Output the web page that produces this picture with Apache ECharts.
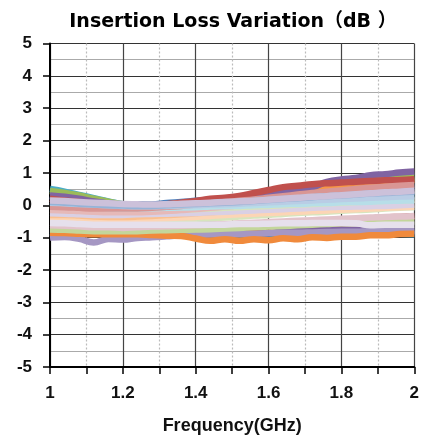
<!DOCTYPE html>
<html>
<head>
<meta charset="utf-8">
<script src="https://cdn.jsdelivr.net/npm/echarts@6/dist/echarts.min.js"></script>
<style>html,body{margin:0;padding:0;background:#fff}#c{width:422px;height:440px}</style>
</head>
<body>
<div id="c"></div>
<script>
var freq = [1.00,1.04,1.08,1.12,1.16,1.20,1.24,1.28,1.32,1.36,1.40,1.44,1.48,1.52,1.56,1.60,1.64,1.68,1.72,1.76,1.80,1.84,1.88,1.92,1.96,2.00];

// dark lines (drawn first)
var tealTop    = [0.50,0.42,0.32,0.22,0.12,0.03,0.00,-0.02,-0.01,0.01,0.03,0.05,0.06,0.08,0.10,0.12,0.14,0.15,0.17,0.19,0.21,0.23,0.25,0.27,0.28,0.30];
var greenTop   = [0.44,0.38,0.30,0.20,0.11,0.03,0.02,0.01,0.03,0.06,0.09,0.12,0.15,0.19,0.24,0.30,0.36,0.42,0.50,0.56,0.63,0.70,0.76,0.80,0.84,0.86];
var blueTop    = [0.28,0.22,0.16,0.10,0.05,0.01,0.03,0.02,0.07,0.10,0.14,0.17,0.21,0.23,0.27,0.30,0.33,0.36,0.38,0.42,0.45,0.48,0.50,0.53,0.56,0.58];
var redTop     = [0.20,0.15,0.10,0.05,0.00,-0.03,-0.02,-0.01,0.03,0.08,0.13,0.20,0.23,0.29,0.38,0.47,0.56,0.60,0.65,0.68,0.70,0.73,0.75,0.77,0.78,0.80];
var orangeTop  = [0.00,-0.02,-0.05,-0.08,-0.10,-0.12,-0.10,-0.10,-0.06,-0.03,0.00,0.05,0.10,0.15,0.20,0.25,0.32,0.38,0.45,0.52,0.58,0.63,0.68,0.72,0.75,0.78];
var purpleTop  = [0.30,0.26,0.20,0.12,0.06,0.00,-0.03,-0.04,-0.01,0.03,0.08,0.13,0.18,0.24,0.30,0.38,0.44,0.50,0.56,0.72,0.80,0.84,0.93,0.96,1.01,1.04];
var tealLow    = [-0.80,-0.82,-0.84,-0.86,-0.86,-0.88,-0.88,-0.90,-0.90,-0.92,-0.94,-0.96,-0.96,-0.95,-0.94,-0.94,-0.93,-0.92,-0.92,-0.91,-0.90,-0.90,-0.89,-0.90,-0.88,-0.90];
var blueLow    = [-0.75,-0.76,-0.78,-0.80,-0.80,-0.82,-0.83,-0.84,-0.85,-0.86,-0.88,-0.90,-0.90,-0.88,-0.88,-0.87,-0.86,-0.86,-0.86,-0.85,-0.84,-0.84,-0.84,-0.85,-0.83,-0.84];
var purpleLow  = [-0.70,-0.72,-0.74,-0.78,-0.78,-0.80,-0.80,-0.80,-0.82,-0.84,-0.86,-0.90,-0.88,-0.90,-0.86,-0.86,-0.80,-0.78,-0.74,-0.72,-0.74,-0.76,-0.80,-0.78,-0.80,-0.80];
var redLow     = [-0.55,-0.56,-0.58,-0.60,-0.62,-0.64,-0.66,-0.70,-0.72,-0.74,-0.76,-0.76,-0.74,-0.72,-0.70,-0.66,-0.62,-0.60,-0.58,-0.56,-0.55,-0.54,-0.55,-0.38,-0.36,-0.34];
var mauveLow   = [-1.00,-0.98,-1.04,-1.15,-1.04,-1.06,-1.01,-0.99,-0.96,-0.93,-0.92,-0.90,-0.90,-0.88,-0.88,-0.86,-0.85,-0.85,-0.84,-0.83,-0.82,-0.82,-0.80,-0.80,-0.79,-0.78];
var orangeLow  = [-0.85,-0.86,-0.88,-0.90,-0.90,-0.90,-0.90,-0.92,-0.94,-0.95,-1.03,-1.10,-1.05,-1.10,-1.05,-1.08,-1.02,-1.05,-0.99,-1.01,-0.97,-0.97,-0.93,-0.93,-0.89,-0.88];
// pastel lines (drawn after)
var greenTint  = [-0.75,-0.76,-0.78,-0.80,-0.80,-0.80,-0.80,-0.78,-0.77,-0.76,-0.75,-0.74,-0.72,-0.70,-0.68,-0.66,-0.64,-0.62,-0.60,-0.58,-0.56,-0.55,-0.53,-0.52,-0.50,-0.50];
var dustyPink  = [-0.62,-0.63,-0.65,-0.68,-0.68,-0.70,-0.68,-0.66,-0.65,-0.63,-0.62,-0.60,-0.58,-0.56,-0.54,-0.52,-0.50,-0.48,-0.46,-0.44,-0.42,-0.40,-0.38,-0.36,-0.35,-0.33];
var paleGreen  = [-0.48,-0.48,-0.50,-0.52,-0.52,-0.52,-0.50,-0.48,-0.46,-0.44,-0.42,-0.40,-0.38,-0.35,-0.32,-0.30,-0.27,-0.24,-0.22,-0.20,-0.17,-0.15,-0.13,-0.10,-0.08,-0.06];
var lightPeach = [-0.40,-0.40,-0.42,-0.44,-0.45,-0.45,-0.44,-0.42,-0.40,-0.38,-0.36,-0.33,-0.30,-0.28,-0.26,-0.24,-0.22,-0.20,-0.18,-0.16,-0.14,-0.12,-0.10,-0.08,-0.06,-0.05];
var peach      = [-0.30,-0.30,-0.32,-0.35,-0.36,-0.36,-0.35,-0.33,-0.30,-0.28,-0.25,-0.22,-0.19,-0.16,-0.13,-0.10,-0.07,-0.04,-0.01,0.02,0.05,0.08,0.10,0.12,0.14,0.16];
var lightLav2  = [-0.25,-0.26,-0.28,-0.30,-0.30,-0.30,-0.28,-0.27,-0.26,-0.25,-0.24,-0.22,-0.20,-0.18,-0.16,-0.14,-0.12,-0.10,-0.08,-0.06,-0.05,-0.04,-0.03,-0.02,0.00,0.02];
var paleGreen2 = [-0.12,-0.13,-0.16,-0.18,-0.20,-0.20,-0.20,-0.18,-0.16,-0.14,-0.12,-0.10,-0.08,-0.06,-0.04,-0.02,0.00,0.02,0.04,0.06,0.08,0.10,0.12,0.14,0.15,0.17];
var pink       = [-0.15,-0.16,-0.18,-0.20,-0.22,-0.22,-0.22,-0.20,-0.18,-0.15,-0.12,-0.08,-0.04,0.00,0.04,0.08,0.12,0.16,0.20,0.24,0.28,0.32,0.36,0.40,0.44,0.48];
var lightTeal  = [0.00,-0.02,-0.05,-0.07,-0.09,-0.10,-0.10,-0.09,-0.08,-0.07,-0.06,-0.04,-0.03,-0.02,0.00,0.01,0.03,0.04,0.06,0.07,0.09,0.10,0.11,0.13,0.14,0.15];
var rose       = [-0.05,-0.06,-0.08,-0.10,-0.10,-0.10,-0.10,-0.08,-0.05,-0.02,0.02,0.06,0.10,0.14,0.18,0.23,0.28,0.33,0.38,0.42,0.46,0.50,0.54,0.57,0.60,0.63];
var lightBlue  = [0.08,0.06,0.04,0.02,0.00,-0.02,-0.03,-0.03,-0.02,-0.01,0.00,0.02,0.03,0.05,0.07,0.09,0.11,0.13,0.15,0.17,0.19,0.21,0.23,0.25,0.27,0.28];
var medBlue    = [0.10,0.08,0.05,0.02,0.00,-0.01,-0.02,-0.02,0.00,0.02,0.04,0.06,0.08,0.10,0.13,0.16,0.19,0.22,0.25,0.28,0.30,0.33,0.36,0.38,0.40,0.42];
var lavender   = [0.15,0.13,0.10,0.08,0.06,0.04,0.03,0.02,0.03,0.05,0.06,0.08,0.10,0.12,0.14,0.17,0.20,0.23,0.26,0.28,0.31,0.34,0.37,0.40,0.42,0.45];
var veryLightLav = [-0.55,-0.56,-0.58,-0.60,-0.60,-0.60,-0.60,-0.60,-0.60,-0.60,-0.60,-0.60,-0.60,-0.58,-0.58,-0.57,-0.56,-0.56,-0.55,-0.55,-0.55,-0.56,-0.62,-0.60,-0.60,-0.60];

var lines = [
  ['tealTop', tealTop, '#4BACC6'], ['greenTop', greenTop, '#9BBB59'], ['blueTop', blueTop, '#4F81BD'],
  ['orangeTop', orangeTop, '#F79646'], ['purpleTop', purpleTop, '#8064A2'], ['redTop', redTop, '#C0504D'],
  ['tealLow', tealLow, '#4BACC6'], ['blueLow', blueLow, '#4F81BD'], ['purpleLow', purpleLow, '#8064A2'],
  ['redLow', redLow, '#C0504D'], ['mauveLow', mauveLow, '#A597C3'], ['orangeLow', orangeLow, '#F08A3C'],
  ['greenTint', greenTint, '#C3D69B'], ['dustyPink', dustyPink, '#E2C3CB'], ['paleGreen', paleGreen, '#D7E4BD'],
  ['lightPeach', lightPeach, '#FCD5B5'], ['peach', peach, '#FAC090'], ['lightLav2', lightLav2, '#D9D0E4'],
  ['paleGreen2', paleGreen2, '#D7E4BD'], ['pink', pink, '#E6B9B8'], ['lightTeal', lightTeal, '#B7DEE8'],
  ['rose', rose, '#D99694'], ['lightBlue', lightBlue, '#B9CDE5'], ['medBlue', medBlue, '#95B3D7'],
  ['lavender', lavender, '#CCC1DA'], ['veryLightLav', veryLightLav, '#E6E0EC']
];

var series = lines.map(function (l) {
  return {
    name: l[0], type: 'line', smooth: 0.4, showSymbol: false, animation: false,
    lineStyle: { width: 6.5, color: l[2] }, itemStyle: { color: l[2] },
    data: l[1].map(function (v, i) { return [freq[i], v]; })
  };
});

var chart = echarts.init(document.getElementById('c'));
chart.setOption({
  backgroundColor: '#fff',
  animation: false,
  title: {
    text: 'Insertion Loss Variation（dB ）', left: 228, top: 8, textAlign: 'center',
    textStyle: { fontFamily: 'DejaVu Sans, Noto Sans CJK SC', fontWeight: 'bold', fontSize: 19, color: '#000' }
  },
  grid: { left: 50, right: 6, top: 43.5, bottom: 69.5, containLabel: false },
  xAxis: {
    type: 'value', min: 1, max: 2, interval: 0.2,
    name: 'Frequency(GHz)', nameLocation: 'middle', nameGap: 50,
    nameTextStyle: { fontFamily: 'Liberation Sans, Arial', fontWeight: 'bold', fontSize: 18, color: '#111' },
    axisLine: { show: true, onZero: false, lineStyle: { color: '#000', width: 2 } },
    axisTick: { show: true, inside: false, length: 7, lineStyle: { color: '#000', width: 1.5 } },
    minorTick: { show: true, splitNumber: 2, length: 7, lineStyle: { color: '#000', width: 1.5 } },
    axisLabel: { margin: 18, fontFamily: 'Liberation Sans, Arial', fontWeight: 'bold', fontSize: 17, color: '#111',
      formatter: function (v) { return String(Math.round(v * 10) / 10); } },
    splitLine: { show: true, lineStyle: { color: '#444', width: 1.2 } },
    minorSplitLine: { show: true, lineStyle: { color: '#bbb', width: 1.2, type: [2, 2] } }
  },
  yAxis: {
    type: 'value', min: -5, max: 5, interval: 1,
    axisLine: { show: true, onZero: false, lineStyle: { color: '#000', width: 2 } },
    axisTick: { show: true, inside: false, length: 7, lineStyle: { color: '#000', width: 1.5 } },
    minorTick: { show: false, splitNumber: 2 },
    axisLabel: { margin: 18, fontFamily: 'Liberation Sans, Arial', fontWeight: 'bold', fontSize: 17, color: '#111' },
    splitLine: { show: true, lineStyle: { color: '#333', width: 1.2 } },
    minorSplitLine: { show: true, lineStyle: { color: '#aaa', width: 1.2 } }
  },
  series: series
});
</script>
</body>
</html>
